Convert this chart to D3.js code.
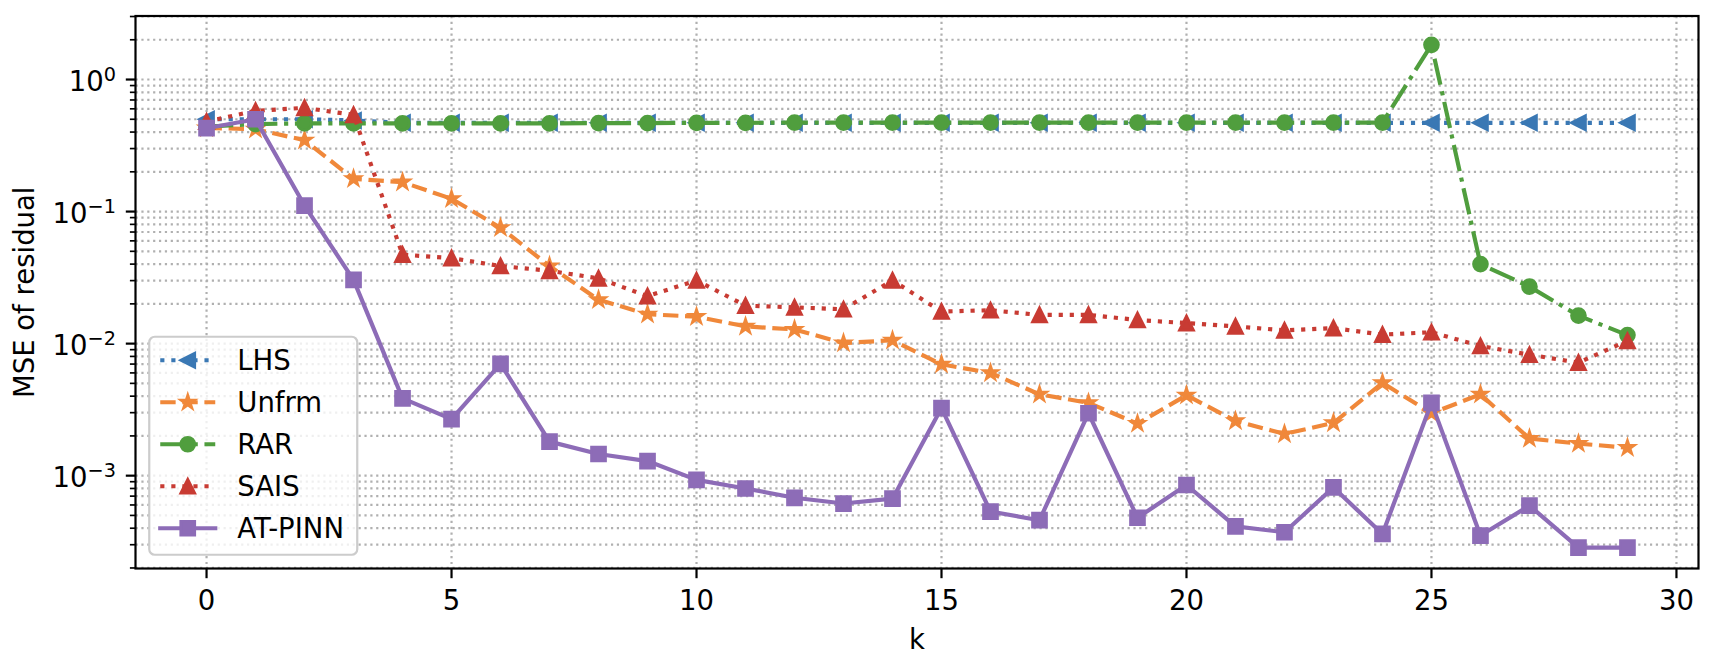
<!DOCTYPE html>
<html>
<head>
<meta charset="utf-8">
<script src="https://cdn.jsdelivr.net/npm/d3@7"></script>
<style>
  body { margin: 0; background: #fff; }
  text { font-family: "DejaVu Sans", sans-serif; fill: #000; }
</style>
</head>
<body>
<div id="chart"></div>
<script>
// iterations k
var iters = d3.range(0, 30);

// MSE of residual per method
var lhs = [0.50, 0.50, 0.50, 0.49, 0.47, 0.47, 0.47, 0.47, 0.47, 0.47,
  0.47, 0.47, 0.47, 0.47, 0.47, 0.47, 0.47, 0.47, 0.47, 0.47,
  0.47, 0.47, 0.47, 0.47, 0.47, 0.47, 0.47, 0.47, 0.47, 0.47];
var unfrm = [0.43, 0.42, 0.347, 0.177, 0.167, 0.125, 0.0754, 0.0387, 0.0215, 0.0167,
  0.0160, 0.0135, 0.0128, 0.0101, 0.0106, 0.00697, 0.0060, 0.00413, 0.00356, 0.00248,
  0.00406, 0.0026, 0.00207, 0.00251, 0.00504, 0.00297, 0.00413, 0.00191, 0.00175, 0.00163];
var rar = [0.44, 0.46, 0.465, 0.465, 0.465, 0.465, 0.465, 0.465, 0.468, 0.468,
  0.47, 0.47, 0.472, 0.472, 0.472, 0.472, 0.472, 0.472, 0.472, 0.472,
  0.472, 0.472, 0.472, 0.472, 0.472, 1.83, 0.040, 0.027, 0.0163, 0.0116];
var sais = [0.48, 0.58, 0.61, 0.54, 0.0472, 0.0444, 0.0387, 0.0356, 0.0312, 0.0229,
  0.0301, 0.0194, 0.0188, 0.0182, 0.0301, 0.0175, 0.0179, 0.0165, 0.0165, 0.0151,
  0.0143, 0.0135, 0.0126, 0.0131, 0.0117, 0.0122, 0.0096, 0.00824, 0.00718, 0.0105];
var atpinn = [0.428, 0.50, 0.111, 0.0304, 0.00385, 0.00268, 0.00702, 0.00181, 0.00146, 0.00129,
  0.00093, 0.00080, 0.00068, 0.000615, 0.00067, 0.00325, 0.000535, 0.00046, 0.00297, 0.00048,
  0.00085, 0.000413, 0.000373, 0.000815, 0.000362, 0.00356, 0.000352, 0.000593, 0.000285, 0.000285];

var names = ["LHS", "Unfrm", "RAR", "SAIS", "AT-PINN"];
var xTicks = [0, 5, 10, 15, 20, 25, 30];
var yTicks = [1e-3, 1e-2, 1e-1, 1e0];
var yTickExp = ["\u22123", "\u22122", "\u22121", "0"];

// styles per series
var colors = ["#3a78b4", "#f0883a", "#509e3e", "#c83b33", "#8d6cb7"];
var dashes = ["4.17,6.88", "15.4,6.67", "26.7,6.67,4.17,6.67", "4.17,6.88", null];
var markers = ["tri-left", "star", "circle", "tri-up", "square"];

var series = [lhs, unfrm, rar, sais, atpinn];

// figure geometry
var W = 1718, H = 664;
var margin = {top: 16, right: 19.5, bottom: 95.5, left: 135.5},
  width = W - margin.left - margin.right,
  height = H - margin.top - margin.bottom;

var fs = 27.5;       // font size px
var lw = 4.17;       // line width px
var ms = 13.9;       // marker size px
var mew = 2.78;      // marker edge width

var svg = d3.select("#chart").append("svg")
  .attr("width", W)
  .attr("height", H);

var g = svg.append("g")
  .attr("transform", "translate(" + margin.left + "," + margin.top + ")");

// scales
var x = d3.scaleLinear().domain([-1.45, 30.45]).range([0, width]);
var y = d3.scaleLog().domain([Math.pow(10, -3.703), Math.pow(10, 0.481)]).range([height, 0]);

// minor ticks on the log axis
var yMinor = [];
[-4, -3, -2, -1, 0].forEach(function(e) {
  for (var m = 2; m <= 9; m++) {
    var v = m * Math.pow(10, e);
    if (v >= y.domain()[0] && v <= y.domain()[1]) yMinor.push(v);
  }
});

// grid lines
var grid = g.append("g").attr("class", "grid")
  .attr("stroke", "#b0b0b0")
  .attr("stroke-width", 2.2)
  .attr("stroke-dasharray", "2.2,3.67");

grid.selectAll(".gx").data(xTicks).enter().append("line")
  .attr("x1", function(d) { return x(d); })
  .attr("x2", function(d) { return x(d); })
  .attr("y1", 0).attr("y2", height);

grid.selectAll(".gy").data(yTicks.concat(yMinor)).enter().append("line")
  .attr("y1", function(d) { return y(d); })
  .attr("y2", function(d) { return y(d); })
  .attr("x1", 0).attr("x2", width);

// clip to the axes
svg.append("defs").append("clipPath").attr("id", "clip")
  .append("rect").attr("width", width).attr("height", height);

// marker path
function markerPath(type, s) {
  var h = s / 2;
  if (type === "tri-up") return "M0," + (-h) + "L" + (-h) + "," + h + "L" + h + "," + h + "Z";
  if (type === "tri-left") return "M" + (-h) + ",0L" + h + "," + (-h) + "L" + h + "," + h + "Z";
  if (type === "square") return "M" + (-h) + "," + (-h) + "h" + s + "v" + s + "h" + (-s) + "Z";
  if (type === "circle") return "M" + h + ",0A" + h + "," + h + " 0 1,1 " + (-h) + ",0A" + h + "," + h + " 0 1,1 " + h + ",0Z";
  // star
  var pts = [];
  var r2 = h * 0.381966;
  for (var i = 0; i < 10; i++) {
    var r = i % 2 === 0 ? h : r2;
    var a = Math.PI / 2 - i * Math.PI / 5;
    pts.push([r * Math.cos(a), -r * Math.sin(a)]);
  }
  return "M" + pts.map(function(p) { return p[0].toFixed(2) + "," + p[1].toFixed(2); }).join("L") + "Z";
}

function drawMarker(sel, i, size) {
  sel.attr("d", markerPath(markers[i], size))
    .attr("fill", colors[i])
    .attr("stroke", colors[i])
    .attr("stroke-width", mew)
    .attr("stroke-linejoin", markers[i] === "circle" ? "round" : "miter");
}

// lines and markers
var line = d3.line()
  .x(function(d, i) { return x(iters[i]); })
  .y(function(d) { return y(d); });

var plot = g.append("g").attr("clip-path", "url(#clip)");

series.forEach(function(vals, i) {
  var sg = plot.append("g");
  sg.append("path")
    .attr("d", line(vals))
    .attr("fill", "none")
    .attr("stroke", colors[i])
    .attr("stroke-width", lw)
    .attr("stroke-linejoin", "round")
    .attr("stroke-linecap", dashes[i] ? "butt" : "square")
    .attr("stroke-dasharray", dashes[i]);

  sg.selectAll(".m").data(vals).enter().append("path")
    .attr("transform", function(d, j) { return "translate(" + x(iters[j]) + "," + y(d) + ")"; })
    .call(drawMarker, i, ms);
});

// axes frame
g.append("rect")
  .attr("width", width).attr("height", height)
  .attr("fill", "none")
  .attr("stroke", "#000")
  .attr("stroke-width", 2.2);

// x ticks
var xt = g.append("g").attr("transform", "translate(0," + height + ")");
xt.selectAll("line").data(xTicks).enter().append("line")
  .attr("x1", function(d) { return x(d); })
  .attr("x2", function(d) { return x(d); })
  .attr("y1", 0).attr("y2", 9.7)
  .attr("stroke", "#000").attr("stroke-width", 2.2);
xt.selectAll("text").data(xTicks).enter().append("text")
  .attr("x", function(d) { return x(d); })
  .attr("y", 41)
  .attr("text-anchor", "middle")
  .style("font-size", fs + "px")
  .text(function(d) { return d; });

// y ticks
var yt = g.append("g");
yt.selectAll(".maj").data(yTicks).enter().append("line")
  .attr("y1", function(d) { return y(d); })
  .attr("y2", function(d) { return y(d); })
  .attr("x1", 0).attr("x2", -9.7)
  .attr("stroke", "#000").attr("stroke-width", 2.2);
yt.selectAll(".min").data(yMinor).enter().append("line")
  .attr("y1", function(d) { return y(d); })
  .attr("y2", function(d) { return y(d); })
  .attr("x1", 0).attr("x2", -5.6)
  .attr("stroke", "#000").attr("stroke-width", 1.67);

var ylab = yt.selectAll("text").data(yTicks).enter().append("text")
  .attr("x", -19.5)
  .attr("y", function(d) { return y(d) + 11.5; })
  .attr("text-anchor", "end")
  .style("font-size", fs + "px");
ylab.append("tspan").text("10");
ylab.append("tspan")
  .attr("dy", -10.5)
  .style("font-size", (fs * 0.7) + "px")
  .text(function(d, i) { return yTickExp[i]; });

// axis labels
g.append("text")
  .attr("x", width / 2)
  .attr("y", height + 80.5)
  .attr("text-anchor", "middle")
  .style("font-size", fs + "px")
  .text("k");

svg.append("text")
  .attr("transform", "translate(34," + (margin.top + height / 2) + ") rotate(-90)")
  .attr("text-anchor", "middle")
  .style("font-size", fs + "px")
  .text("MSE of residual");

// legend, lower left
var lg = g.append("g").attr("transform", "translate(13.75," + (height - 13.75 - 218) + ")");
lg.append("rect")
  .attr("width", 208).attr("height", 218)
  .attr("rx", 5.5).attr("ry", 5.5)
  .attr("fill", "#fff").attr("fill-opacity", 0.8)
  .attr("stroke", "#cccccc").attr("stroke-width", 2.2);

names.forEach(function(name, i) {
  var cy = 23.5 + i * 42;
  var row = lg.append("g").attr("transform", "translate(0," + cy + ")");
  row.append("line")
    .attr("x1", 11).attr("x2", 66)
    .attr("stroke", colors[i])
    .attr("stroke-width", lw)
    .attr("stroke-linecap", dashes[i] ? "butt" : "square")
    .attr("stroke-dasharray", dashes[i]);
  row.append("path")
    .attr("transform", "translate(38.5,0)")
    .call(drawMarker, i, ms);
  row.append("text")
    .attr("x", 88)
    .attr("y", 10)
    .style("font-size", fs + "px")
    .text(name);
});
</script>
</body>
</html>
